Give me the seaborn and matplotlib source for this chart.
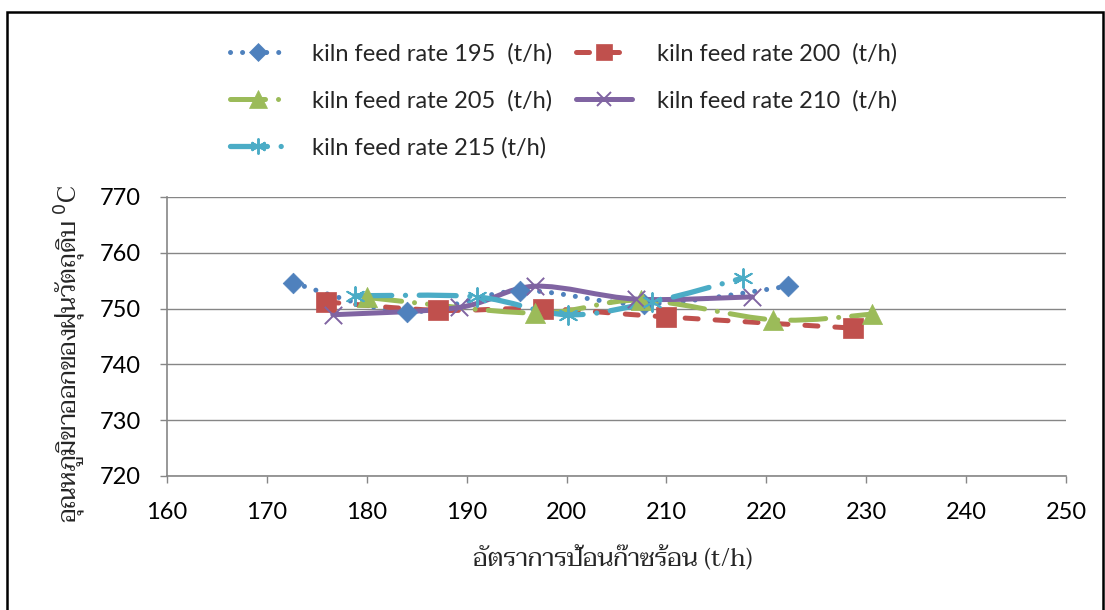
import matplotlib
matplotlib.use("Agg")
import numpy as np
import pandas as pd
import matplotlib.pyplot as plt
from matplotlib.path import Path
from matplotlib.patches import PathPatch, Rectangle
from matplotlib.lines import Line2D
import seaborn as sns

# Hot-gas feed rate (t/h) vs. raw-meal dust outlet temperature (deg C)
x_195 = [172.6, 184.0, 195.3, 207.8, 222.2]
y_195 = [754.6, 749.4, 753.2, 750.8, 754.0]

x_200 = [175.9, 187.1, 197.6, 210.0, 228.7]
y_200 = [751.2, 749.7, 750.0, 748.5, 746.5]

x_205 = [180.0, 196.8, 207.5, 220.7, 230.6]
y_205 = [752.0, 749.2, 751.5, 748.0, 749.0]

x_210 = [176.6, 189.2, 196.8, 207.0, 218.6]
y_210 = [748.9, 750.2, 754.0, 751.7, 752.1]

x_215 = [178.8, 191.0, 200.1, 208.6, 217.7]
y_215 = [752.3, 752.1, 748.9, 751.2, 755.5]

labels = ["kiln feed rate 195  (t/h)", "kiln feed rate 200  (t/h)",
          "kiln feed rate 205  (t/h)", "kiln feed rate 210  (t/h)",
          "kiln feed rate 215 (t/h)"]

x_ticks = [160, 170, 180, 190, 200, 210, 220, 230, 240, 250]
y_ticks = [720, 730, 740, 750, 760, 770]

x_label = "อัตราการป้อนก๊าซร้อน (t/h)"
y_label = "อุณหภูมิขาออกของฝุ่นวัตถุดิบ $^{0}$C"

frames = []
for name, xs, ys in zip(labels, [x_195, x_200, x_205, x_210, x_215],
                        [y_195, y_200, y_205, y_210, y_215]):
    frames.append(pd.DataFrame({"rate": xs, "temp": ys, "series": name}))
df = pd.concat(frames, ignore_index=True)

sns.set_theme(style="white")
LATIN = ["Lato", "Open Sans", "DejaVu Sans"]
THAI = ["Taviraj", "Noto Serif Thai", "Sarabun", "Noto Sans Thai", "Liberation Serif"]
plt.rcParams["font.family"] = LATIN

colors = ["#4F81BD", "#C0504D", "#9BBB59", "#8064A2", "#4BACC6"]
asterisk = (6, 2, 0)
markers = ["D", "s", "^", "x", asterisk]
msizes = [10.5, 14.0, 14.5, 12.5, 13.5]
mews = [0.5, 0.5, 0.5, 1.4, 1.4]
lws = [3.6, 3.6, 3.6, 3.6, 3.8]
styles = [
    (0, (0.01, 2.4)),             # round dots
    (0, (2.6, 3.4)),              # dashes
    (0, (7.0, 2.6, 0.01, 2.6)),   # long dash - dot
    "-",                          # solid
    (0, (7.0, 2.6, 0.01, 2.6)),   # long dash - dot
]

fig = plt.figure(figsize=(11.05, 6.1), dpi=100)
ax = fig.add_axes([167 / 1105, 1 - 476 / 610, (1066 - 167) / 1105, (476 - 197) / 610])


def smooth_path(xs, ys):
    """Bezier path through the points (Catmull-Rom control points)."""
    pts = np.column_stack([xs, ys]).astype(float)
    n = len(pts)
    verts = [pts[0]]
    codes = [Path.MOVETO]
    for i in range(n - 1):
        p0 = pts[i - 1] if i > 0 else pts[i]
        p1 = pts[i]
        p2 = pts[i + 1]
        p3 = pts[i + 2] if i + 2 < n else pts[i + 1]
        c1 = p1 + (p2 - p0) / 6.0
        c2 = p2 - (p3 - p1) / 6.0
        verts += [c1, c2, p2]
        codes += [Path.CURVE4] * 3
    return Path(verts, codes)


for i, name in enumerate(labels):
    sub = df[df["series"] == name]
    patch = PathPatch(smooth_path(sub["rate"], sub["temp"]), facecolor="none",
                      edgecolor=colors[i], lw=lws[i], linestyle=styles[i],
                      capstyle="round", joinstyle="round", zorder=2 + i * 0.1)
    ax.add_patch(patch)

for i, name in enumerate(labels):
    sub = df[df["series"] == name]
    sns.scatterplot(data=sub, x="rate", y="temp", ax=ax, color=colors[i],
                    marker=markers[i], s=msizes[i] ** 2, linewidth=mews[i],
                    edgecolor=colors[i], legend=False, zorder=4)

ax.set_xlim(160, 250)
ax.set_ylim(720, 770)
ax.set_xticks(x_ticks)
ax.set_yticks(y_ticks)
ax.tick_params(axis="both", labelsize=17, colors="#000000", length=5,
               width=1, direction="out", color="#868686")
ax.tick_params(axis="y", left=True, pad=14)
ax.tick_params(axis="x", bottom=True, pad=14)
ax.yaxis.grid(True, color="#868686", lw=1)
ax.xaxis.grid(False)
for side in ["top", "right"]:
    ax.spines[side].set_visible(False)
for side in ["left", "bottom"]:
    ax.spines[side].set_color("#868686")
    ax.spines[side].set_linewidth(1.2)
ax.set_xlabel("")
ax.set_ylabel("")

fig.text(613 / 1105, 1 - 560 / 610, x_label, ha="center", va="center",
         fontsize=18, family=THAI)
fig.text(70 / 1105, 1 - 354 / 610, y_label, ha="center", va="center",
         rotation=90, fontsize=18, family=THAI)

handles = []
for i in range(5):
    handles.append(Line2D([], [], color=colors[i], lw=lws[i], linestyle=styles[i],
                          dash_capstyle="round", solid_capstyle="round",
                          marker=markers[i], markersize=msizes[i] * 0.85,
                          markeredgewidth=mews[i], markeredgecolor=colors[i],
                          markerfacecolor=colors[i]))
order = [0, 2, 4, 1, 3]
fig.legend([handles[k] for k in order], [labels[k] for k in order],
           loc="upper left", bbox_to_anchor=(230 / 1105, 1 - 43 / 610),
           ncol=2, frameon=False, fontsize=17, handlelength=2.4,
           handletextpad=1.06, columnspacing=1.0, labelspacing=1.08,
           borderpad=0, borderaxespad=0)

fig.patches.append(Rectangle((7 / 1105, -0.05), (1103 - 7) / 1105, 1.05 - 12 / 610,
                             transform=fig.transFigure, fill=False,
                             edgecolor="black", lw=1.8))

fig.savefig("out.png", dpi=100)
